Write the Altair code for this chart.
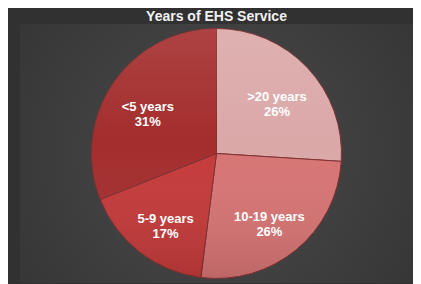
import altair as alt
import pandas as pd

categories = [">20 years", "10-19 years", "5-9 years", "<5 years"]
percents = [26, 26, 17, 31]
order_idx = [1, 2, 3, 4]
colors = ["#dba8a8", "#d87474", "#c53a3a", "#a42d2d"]

df = pd.DataFrame({
    "category": categories,
    "pct": percents,
    "idx": order_idx,
    "label": [f"{c}\n{p}%" for c, p in zip(categories, percents)],
})

R = 125

bg = alt.Chart(alt.Data(values=[{"k": 1}])).mark_rect(
    fill=alt.Gradient(
        gradient="radial",
        x1=0.5, y1=0.5, r1=0, x2=0.5, y2=0.5, r2=0.75,
        stops=[alt.GradientStop(color="#4b4b4b", offset=0),
               alt.GradientStop(color="#313131", offset=1)],
    )
).encode(x=alt.value(0), x2=alt.value("width"), y=alt.value(0), y2=alt.value("height"))

base = alt.Chart(df).encode(
    theta=alt.Theta("pct:Q", stack=True),
    order=alt.Order("idx:Q"),
)

arcs = base.mark_arc(radius=R, stroke="#7e3030", strokeWidth=1).encode(
    color=alt.Color("category:N", scale=alt.Scale(domain=categories, range=colors), legend=None)
)

shade = alt.Chart(alt.Data(values=[{"k": 1}])).mark_arc(
    radius=R, theta=0, theta2=6.2832,
    fill=alt.Gradient(
        gradient="linear", x1=0, y1=0, x2=0, y2=1,
        stops=[alt.GradientStop(color="rgba(255,255,255,0.10)", offset=0),
               alt.GradientStop(color="rgba(255,255,255,0)", offset=0.45),
               alt.GradientStop(color="rgba(0,0,0,0.12)", offset=1)],
    ),
).encode(opacity=alt.value(1))

labels = base.mark_text(
    radius=83, font="Liberation Sans", fontSize=13, fontWeight="bold",
    color="#ffffff", lineBreak="\n", lineHeight=15, align="center", baseline="middle",
).encode(text="label:N")

chart = alt.layer(bg, arcs, shade, labels).properties(
    width=393, height=259,
    autosize=alt.AutoSizeParams(type="none"),
    padding={"top": 16, "left": 12, "right": 0, "bottom": 9},
    background="#313131",
    title=alt.TitleParams(
        "Years of EHS Service", font="Liberation Sans", fontSize=14, fontWeight="bold",
        color="#f2f2f2", anchor="middle", offset=0,
    ),
).configure_view(stroke=None)

chart.save("out.html", embed_options={"renderer": "svg", "actions": False})
